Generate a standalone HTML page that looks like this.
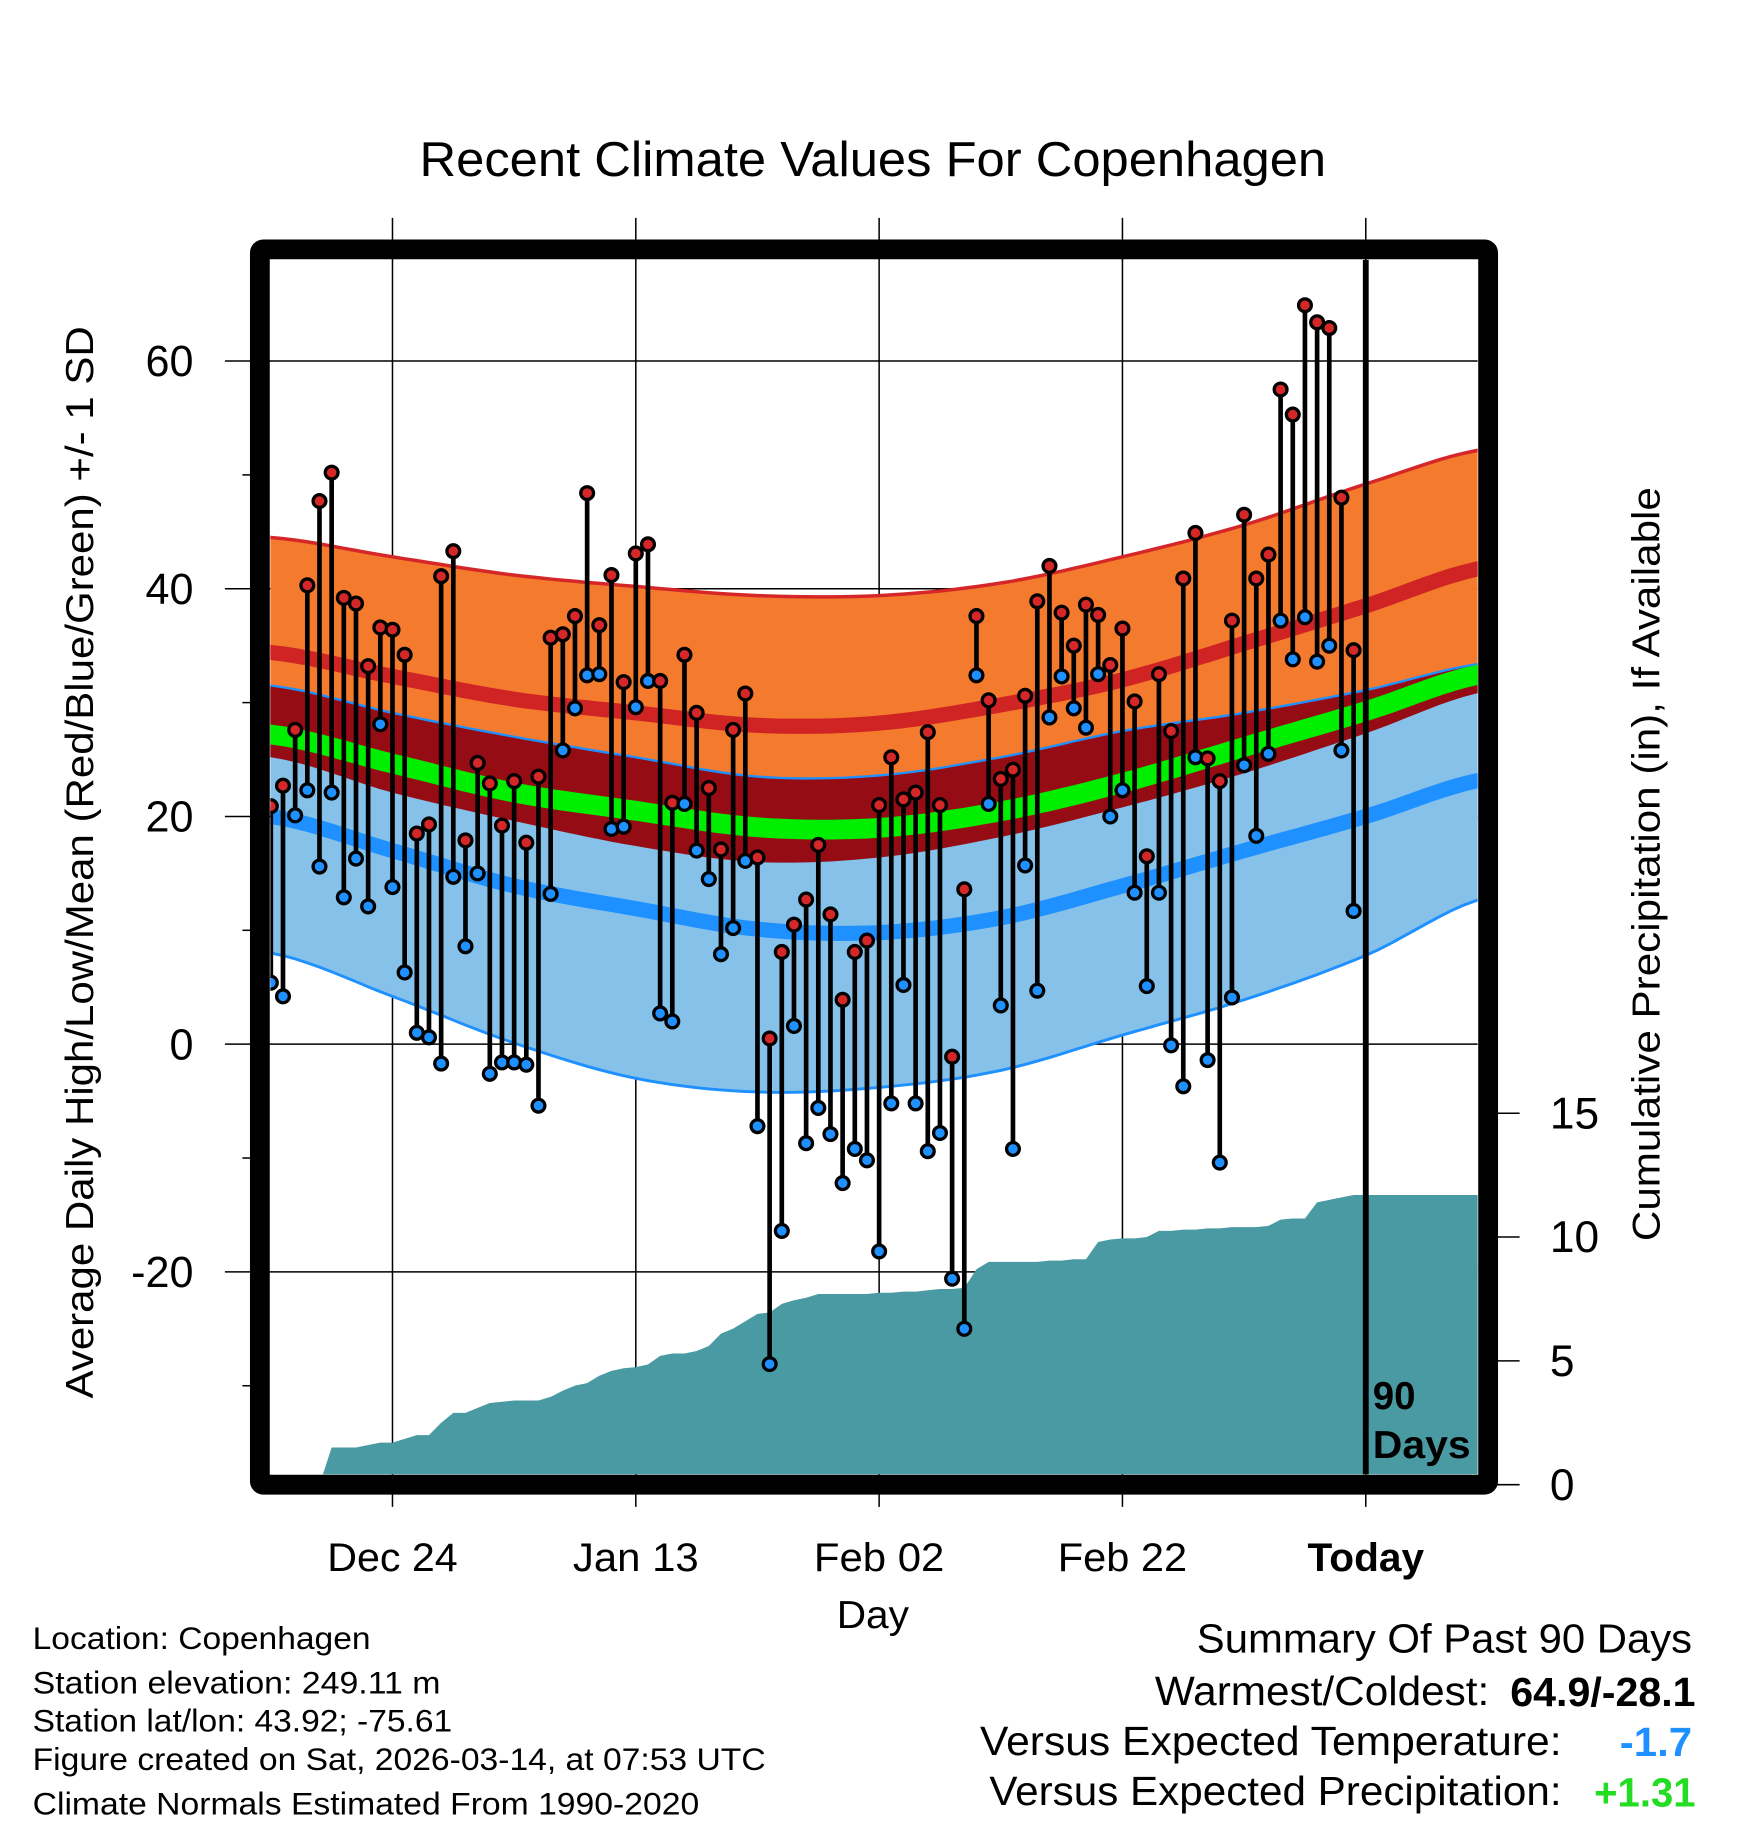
<!DOCTYPE html>
<html><head><meta charset="utf-8"><style>
html,body{margin:0;padding:0;background:#fff}
svg{display:block}
text{font-family:"Liberation Sans",Arial,sans-serif}
</style></head><body>
<svg id="chart" width="1748" height="1828" viewBox="0 0 1500 1568.6" preserveAspectRatio="none" xmlns="http://www.w3.org/2000/svg">
<defs><clipPath id="plotclip"><rect x="232" y="223" width="1036" height="1042"/></clipPath></defs>
<text x="360" y="151" font-size="42" textLength="778" lengthAdjust="spacingAndGlyphs">Recent Climate Values For Copenhagen</text>
<g id="grid"></g>
<g id="plot" clip-path="url(#plotclip)"></g>
<g id="axes"></g>
<text transform="translate(80,1200) rotate(-90)" font-size="33" textLength="920" lengthAdjust="spacingAndGlyphs">Average Daily High/Low/Mean (Red/Blue/Green) +/- 1 SD</text>
<text transform="translate(1424,1065) rotate(-90)" font-size="33" textLength="647" lengthAdjust="spacingAndGlyphs">Cumulative Precipitation (in), If Available</text>
<text x="718" y="1397" font-size="33" textLength="62" lengthAdjust="spacingAndGlyphs">Day</text>
<g font-size="27">
<text x="28" y="1415" textLength="290" lengthAdjust="spacingAndGlyphs">Location: Copenhagen</text>
<text x="28" y="1453" textLength="350" lengthAdjust="spacingAndGlyphs">Station elevation: 249.11 m</text>
<text x="28" y="1486" textLength="360" lengthAdjust="spacingAndGlyphs">Station lat/lon: 43.92; -75.61</text>
<text x="28" y="1519" textLength="629" lengthAdjust="spacingAndGlyphs">Figure created on Sat, 2026-03-14, at 07:53 UTC</text>
<text x="28" y="1557" textLength="572" lengthAdjust="spacingAndGlyphs">Climate Normals Estimated From 1990-2020</text>
</g>
<g font-size="35">
<text x="1027" y="1418" textLength="425" lengthAdjust="spacingAndGlyphs">Summary Of Past 90 Days</text>
<text x="991" y="1463" textLength="287" lengthAdjust="spacingAndGlyphs">Warmest/Coldest:</text>
<text x="1296" y="1464" font-weight="bold" textLength="159" lengthAdjust="spacingAndGlyphs">64.9/-28.1</text>
<text x="841" y="1506" textLength="499" lengthAdjust="spacingAndGlyphs">Versus Expected Temperature:</text>
<text x="1390" y="1507" font-weight="bold" fill="#1e90ff" textLength="62" lengthAdjust="spacingAndGlyphs">-1.7</text>
<text x="849" y="1549" textLength="491" lengthAdjust="spacingAndGlyphs">Versus Expected Precipitation:</text>
<text x="1368" y="1550" font-weight="bold" fill="#22dd22" textLength="87" lengthAdjust="spacingAndGlyphs">+1.31</text>
</g>
</svg>
<script>
// ---- data ----
const highs = [20.9,22.7,27.6,40.3,47.7,50.2,39.2,38.7,33.2,36.6,36.4,34.2,18.5,19.3,41.1,43.3,17.9,24.7,22.9,19.2,23.1,17.7,23.5,35.7,36.0,37.6,48.4,36.8,41.2,31.8,43.1,43.9,31.9,21.2,34.2,29.1,22.5,17.1,27.6,30.8,16.4,0.5,8.1,10.5,12.7,17.5,11.4,3.9,8.1,9.1,21.0,25.2,21.5,22.1,27.4,21.0,-1.1,13.6,37.6,30.2,23.3,24.1,30.6,38.9,42.0,37.9,35.0,38.6,37.7,33.3,36.5,30.1,16.5,32.5,27.5,40.9,44.9,25.1,23.1,37.2,46.5,40.9,43.0,57.5,55.3,64.9,63.4,62.9,48.0,34.6];
const lows = [5.4,4.2,20.1,22.3,15.6,22.1,12.9,16.3,12.1,28.1,13.8,6.3,1.0,0.6,-1.7,14.7,8.6,15.0,-2.6,-1.6,-1.6,-1.8,-5.4,13.2,25.8,29.5,32.4,32.5,18.9,19.1,29.6,31.9,2.7,2.0,21.1,17.0,14.5,7.9,10.2,16.1,-7.2,-28.1,-16.4,1.6,-8.7,-5.6,-7.9,-12.2,-9.2,-10.2,-18.2,-5.2,5.2,-5.2,-9.4,-7.8,-20.6,-25.0,32.4,21.1,3.4,-9.2,15.7,4.7,28.7,32.3,29.5,27.8,32.5,20.0,22.3,13.3,5.1,13.3,-0.1,-3.7,25.2,-1.4,-10.4,4.1,24.5,18.3,25.5,37.2,33.8,37.5,33.6,35.0,25.8,11.7];
const precip = [0,0,0,0,0,1.5,1.5,1.5,1.6,1.7,1.7,1.85,2.0,2.0,2.5,2.9,2.9,3.1,3.3,3.35,3.4,3.4,3.4,3.55,3.8,4.0,4.1,4.4,4.6,4.7,4.75,4.85,5.2,5.3,5.3,5.4,5.6,6.1,6.3,6.6,6.9,6.95,7.3,7.45,7.55,7.7,7.7,7.7,7.7,7.7,7.75,7.75,7.8,7.8,7.85,7.9,7.9,7.95,8.7,9.0,9.0,9.0,9.0,9.0,9.05,9.05,9.1,9.1,9.8,9.9,9.95,9.95,10.0,10.25,10.25,10.3,10.3,10.35,10.35,10.4,10.4,10.4,10.45,10.7,10.75,10.75,11.4,11.5,11.6,11.7];
const normDays = [-90,-80,-70,-60,-50,-40,-30,-20,-10,0,10];
const highPlus = [44.5,42.8,41.2,40.2,39.4,39.4,40.5,42.8,45.6,49.2,52.3];
const highMean = [34.4,32.3,30.3,29.1,28.0,28.2,29.8,32.0,35.2,38.5,41.9];
const highMinus = [25.2,22.1,19.6,17.4,16.0,16.4,18.2,20.8,23.8,27.3,31.0];
const lowPlus = [31.5,29.1,27.0,25.2,23.5,23.6,25.2,27.5,29.1,31.1,33.5];
const lowMean = [20.0,17.0,13.9,11.9,10.1,9.8,11.1,13.9,17.0,20.0,23.3];
const lowMinus = [8.0,4.2,0.1,-3.0,-4.2,-3.8,-2.3,0.8,3.9,7.8,12.9];
const yTicks = [60,40,20,0,-20];
const yMinor = [50,30,10,-10,-30];
const pTicks = [0,5,10,15];
const xTickDays = [-80,-60,-40,-20,0];
const xTickLabels = ['Dec 24','Jan 13','Feb 02','Feb 22','Today'];

// ---- scales ----
const X = d => 1172 + d*10.44;
const Y = v => 896 - v*9.77;
const P = v => 1274 - v*21.25;
const NS = 'http://www.w3.org/2000/svg';
function mk(tag, attrs, parent){const e=document.createElementNS(NS,tag);for(const k in attrs)e.setAttribute(k,attrs[k]);parent.appendChild(e);return e;}
function interp(arr, d){
  const step=10, t=(d-normDays[0])/step; let i=Math.floor(t); i=Math.max(0,Math.min(arr.length-2,i)); const u=t-i;
  const p0=arr[Math.max(0,i-1)],p1=arr[i],p2=arr[i+1],p3=arr[Math.min(arr.length-1,i+2)];
  return 0.5*((2*p1)+(-p0+p2)*u+(2*p0-5*p1+4*p2-p3)*u*u+(-p0+3*p1-3*p2+p3)*u*u*u);
}
const sampleDays=[]; for(let d=-92; d<=10; d+=1) sampleDays.push(d);
function linePts(arr){return sampleDays.map(d=>X(d).toFixed(1)+','+Y(interp(arr,d)).toFixed(1));}
function band(a,b){return linePts(a).concat(linePts(b).reverse()).join(' ');}
function overlapBand(){
  const top=sampleDays.map(d=>X(d).toFixed(1)+','+Y(interp(lowPlus,d)).toFixed(1));
  const bot=sampleDays.map(d=>X(d).toFixed(1)+','+Y(Math.min(interp(highMinus,d),interp(lowPlus,d))).toFixed(1));
  return top.concat(bot.reverse()).join(' ');
}
const plot=document.getElementById('plot'), grid=document.getElementById('grid'), axes=document.getElementById('axes');

let e;
e=mk('polygon',{points:band(highPlus,highMinus),fill:'#f47a2e'},plot);


e=mk('polygon',{points:band(lowPlus,lowMinus),fill:'#85c1e9'},plot);


e=mk('polygon',{points:overlapBand(),fill:'#960c14'},plot);


e=mk('polyline',{points:linePts(highPlus).join(' '),fill:'none',stroke:'#d62728','stroke-width':3},plot);


e=mk('polyline',{points:linePts(lowPlus).join(' '),fill:'none',stroke:'#1e90ff','stroke-width':2},plot);


e=mk('polyline',{points:linePts(lowMinus).join(' '),fill:'none',stroke:'#1e90ff','stroke-width':2.5},plot);


e=mk('polyline',{points:linePts(highMean).join(' '),fill:'none',stroke:'#d02424','stroke-width':13},plot);


e=mk('polyline',{points:linePts(lowMean).join(' '),fill:'none',stroke:'#1e90ff','stroke-width':13},plot);


const meanArr=highMean.map((h,i)=>(h+lowMean[i])/2);
e=mk('polyline',{points:linePts(meanArr).join(' '),fill:'none',stroke:'#00ee00','stroke-width':17},plot);



let pp=[X(-90)+','+1266];
precip.forEach((v,i)=>pp.push(X(i-90).toFixed(1)+','+P(v).toFixed(1)));
pp.push('1270,'+P(precip[precip.length-1]).toFixed(1)); pp.push('1270,1266');
e=mk('polygon',{points:pp.join(' '),fill:'#4a9aa3'},plot);



yTicks.forEach(v=>{
  e=mk('line',{x1:193,x2:1268,y1:Y(v),y2:Y(v),stroke:'#000','stroke-width':1.3},grid);
  
  
  e=mk('text',{x:166,y:Y(v)+13,'font-size':37,'text-anchor':'end'},axes);
  e.textContent=v;
  
  
});
yMinor.forEach(v=>{
  e=mk('line',{x1:208,x2:220,y1:Y(v),y2:Y(v),stroke:'#000','stroke-width':1.3},axes);
  
  
});
const xw=[112,108,112,111,100];
xTickDays.forEach((d,i)=>{
  e=mk('line',{x1:X(d),x2:X(d),y1:187,y2:1293,stroke:'#000','stroke-width':1.3},grid);
  
  
  e=mk('text',{x:X(d)-xw[i]/2,y:1348,'font-size':34,textLength:xw[i],lengthAdjust:'spacingAndGlyphs','font-weight':d===0?'bold':'normal'},axes);
  e.textContent=xTickLabels[i];
  
  
});
pTicks.forEach(v=>{
  e=mk('line',{x1:1284,x2:1304,y1:P(v),y2:P(v),stroke:'#000','stroke-width':1.3},axes);
  
  
  e=mk('text',{x:1330,y:P(v)+13,'font-size':38},axes);
  e.textContent=v;
  
  
});

highs.forEach((h,i)=>{
  const x=X(i-90), l=lows[i];
  e=mk('line',{x1:x,x2:x,y1:Y(h),y2:Y(l),stroke:'#000','stroke-width':4},plot);
  
  
});
highs.forEach((h,i)=>{
  const x=X(i-90);
  e=mk('circle',{cx:x,cy:Y(lows[i]),r:5.5,fill:'#1e90ff',stroke:'#000','stroke-width':2.8},plot);
  
  
  e=mk('circle',{cx:x,cy:Y(h),r:5.5,fill:'#d62728',stroke:'#000','stroke-width':2.8},plot);
  
  
});

e=mk('line',{x1:X(0),x2:X(0),y1:223,y2:1265,stroke:'#000','stroke-width':5},axes);


e=mk('text',{x:1178,y:1209,'font-size':33,'font-weight':'bold'},axes);
e.textContent='90';


e=mk('text',{x:1178,y:1251,'font-size':33,'font-weight':'bold',textLength:84,lengthAdjust:'spacingAndGlyphs'},axes);
e.textContent='Days';



e=mk('rect',{x:223,y:214,width:1054,height:1060,fill:'none',stroke:'#000','stroke-width':17,rx:3},axes);


</script>
</body></html>
